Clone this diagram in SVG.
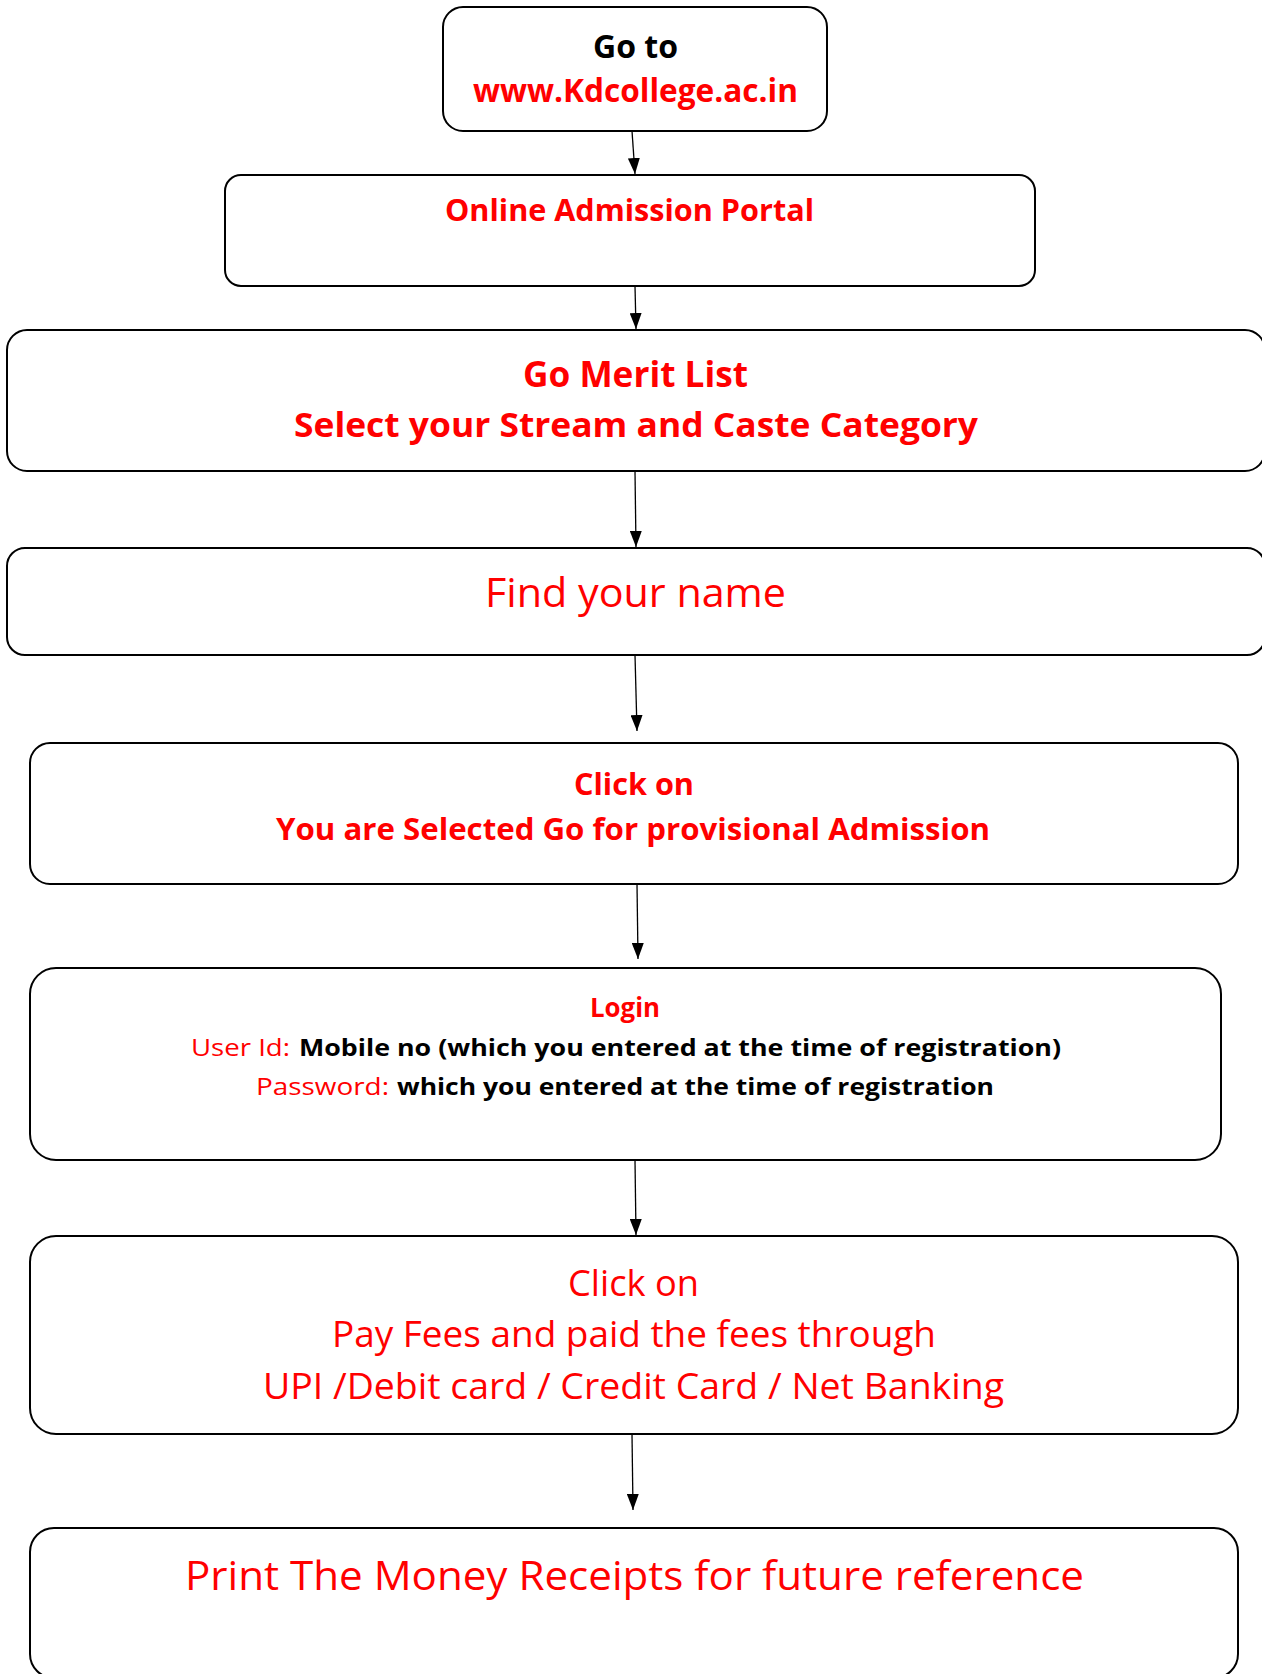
<svg xmlns="http://www.w3.org/2000/svg" width="1262" height="1674" viewBox="0 0 1262 1674">
<defs>
<marker id="ah" markerWidth="16" markerHeight="12" refX="16" refY="6" orient="auto" markerUnits="userSpaceOnUse">
<path d="M0,0 L16,6 L0,12 Z" fill="#000"/>
</marker>
<style>
.box{fill:#fff;stroke:#000;stroke-width:2}
.t{font-family:"Open Sans","Noto Sans","Liberation Sans",sans-serif}
.b{font-weight:bold}
.r{fill:#ff0000}
.k{fill:#000}
.c{stroke:#000;stroke-width:1.3;fill:none}
</style>
</defs>
<rect width="1262" height="1674" fill="#fff"/>
<g id="connectors">
<line class="c" x1="632" y1="131" x2="635" y2="174" marker-end="url(#ah)"/>
<line class="c" x1="635" y1="286" x2="636" y2="329" marker-end="url(#ah)"/>
<line class="c" x1="635" y1="471" x2="636" y2="547" marker-end="url(#ah)"/>
<line class="c" x1="635" y1="655" x2="637" y2="731" marker-end="url(#ah)"/>
<line class="c" x1="637" y1="884" x2="638" y2="959" marker-end="url(#ah)"/>
<line class="c" x1="635" y1="1160" x2="636" y2="1235" marker-end="url(#ah)"/>
<line class="c" x1="632" y1="1434" x2="633" y2="1510" marker-end="url(#ah)"/>
</g>
<g id="n1">
<rect class="box" x="443" y="7" width="384" height="124" rx="20"/>
<text class="t b k" x="593" y="58" font-size="32" textLength="85" lengthAdjust="spacingAndGlyphs">Go to</text>
<text class="t b r" x="473" y="101.5" font-size="32" textLength="325" lengthAdjust="spacingAndGlyphs">www.Kdcollege.ac.in</text>
</g>
<g id="n2">
<rect class="box" x="225" y="175" width="810" height="111" rx="16"/>
<text class="t b r" x="445" y="220.5" font-size="31" textLength="369" lengthAdjust="spacingAndGlyphs">Online Admission Portal</text>
</g>
<g id="n3">
<rect class="box" x="7" y="330" width="1258" height="141" rx="20"/>
<text class="t b r" x="523" y="386.5" font-size="35" textLength="225" lengthAdjust="spacingAndGlyphs">Go Merit List</text>
<text class="t b r" x="294" y="437" font-size="34" textLength="684" lengthAdjust="spacingAndGlyphs">Select your Stream and Caste Category</text>
</g>
<g id="n4">
<rect class="box" x="7" y="548" width="1258" height="107" rx="18"/>
<text class="t r" x="485" y="607" font-size="41" textLength="301" lengthAdjust="spacingAndGlyphs">Find your name</text>
</g>
<g id="n5">
<rect class="box" x="30" y="743" width="1208" height="141" rx="20"/>
<text class="t b r" x="574" y="795" font-size="31" textLength="120" lengthAdjust="spacingAndGlyphs">Click on</text>
<text class="t b r" x="276" y="840" font-size="31" textLength="714" lengthAdjust="spacingAndGlyphs">You are Selected Go for provisional Admission</text>
</g>
<g id="n6">
<rect class="box" x="30" y="968" width="1191" height="192" rx="26"/>
<text class="t b r" x="590" y="1016.5" font-size="26" textLength="70" lengthAdjust="spacingAndGlyphs">Login</text>
<text class="t r" x="191" y="1056" font-size="24" textLength="99" lengthAdjust="spacingAndGlyphs">User Id:</text>
<text class="t b k" x="299" y="1056" font-size="24" textLength="762" lengthAdjust="spacingAndGlyphs">Mobile no (which you entered at the time of registration)</text>
<text class="t r" x="256" y="1095" font-size="24" textLength="133" lengthAdjust="spacingAndGlyphs">Password:</text>
<text class="t b k" x="397" y="1095" font-size="24" textLength="597" lengthAdjust="spacingAndGlyphs">which you entered at the time of registration</text>
</g>
<g id="n7">
<rect class="box" x="30" y="1236" width="1208" height="198" rx="26"/>
<text class="t r" x="568" y="1295.5" font-size="36" textLength="131" lengthAdjust="spacingAndGlyphs">Click on</text>
<text class="t r" x="332" y="1346.5" font-size="36" textLength="604" lengthAdjust="spacingAndGlyphs">Pay Fees and paid the fees through</text>
<text class="t r" x="263" y="1399" font-size="36" textLength="741" lengthAdjust="spacingAndGlyphs">UPI /Debit card / Credit Card / Net Banking</text>
</g>
<g id="n8">
<rect class="box" x="30" y="1528" width="1208" height="150" rx="24"/>
<text class="t r" x="185" y="1590" font-size="40" textLength="899" lengthAdjust="spacingAndGlyphs">Print The Money Receipts for future reference</text>
</g>
</svg>
